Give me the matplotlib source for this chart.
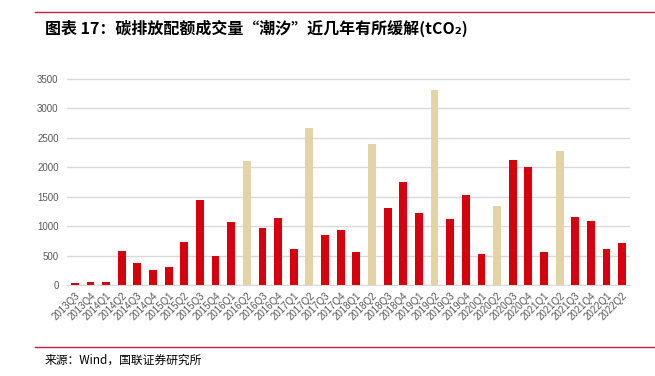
#!/usr/bin/env python3

import numpy as np
from matplotlib import pyplot as plt

plt.rcParams['font.family'] = ['Liberation Sans', 'Noto Sans CJK SC', 'DejaVu Sans']

quarters = ['2013Q3', '2013Q4',
            '2014Q1', '2014Q2', '2014Q3', '2014Q4',
            '2015Q1', '2015Q2', '2015Q3', '2015Q4',
            '2016Q1', '2016Q2', '2016Q3', '2016Q4',
            '2017Q1', '2017Q2', '2017Q3', '2017Q4',
            '2018Q1', '2018Q2', '2018Q3', '2018Q4',
            '2019Q1', '2019Q2', '2019Q3', '2019Q4',
            '2020Q1', '2020Q2', '2020Q3', '2020Q4',
            '2021Q1', '2021Q2', '2021Q3', '2021Q4',
            '2022Q1', '2022Q2']
volume = [40, 50, 55, 580, 375, 260, 310, 730, 1440, 485,
          1065, 2100, 975, 1130, 615, 2670, 850, 935,
          555, 2395, 1310, 1750, 1230, 3320, 1120, 1525,
          525, 1335, 2130, 2005, 555, 2280, 1160, 1090,
          615, 715]
# quarters drawn in tan
highlight = ['2016Q2', '2017Q2', '2018Q2', '2019Q2', '2020Q2', '2021Q2']

red = '#D7000F'
tan = '#E5D3A8'


def main():
    fig = plt.figure(figsize=(6.55, 3.76), dpi=100)
    ax = fig.add_axes([67/655, 1 - 285/376, 563/655, 206/376 * 3700/3500])

    x = np.arange(len(quarters))
    colors = [tan if q in highlight else red for q in quarters]
    ax.bar(x, volume, width=0.5, color=colors, zorder=3)

    ax.set_xlim(-0.5, len(quarters) - 0.5)
    ax.set_ylim(0, 3700)
    ax.set_yticks(np.arange(0, 3501, 500))
    ax.set_xticks(x)
    ax.set_xticklabels(quarters, rotation=45, ha='right', rotation_mode='anchor')
    ax.tick_params(axis='both', length=0, labelsize=7, colors='#595959', pad=4)
    ax.tick_params(axis='y', pad=6)
    ax.grid(axis='y', color='#d9d9d9', linewidth=1, zorder=0)
    for s in ['top', 'right', 'left']:
        ax.spines[s].set_visible(False)
    ax.spines['bottom'].set_color('#d9d9d9')

    # title and source with red rules
    fig.add_artist(plt.Line2D([35/655, 1], [1 - 12/376] * 2, color='#C8203C', lw=1))
    fig.text(45/655, 1 - 28/376, '图表 17：碳排放配额成交量“潮汐”近几年有所缓解(tCO₂)',
             fontsize=11.5, fontweight='bold', va='center',
             family=['Noto Sans CJK SC', 'DejaVu Sans'])
    fig.add_artist(plt.Line2D([35/655, 1], [1 - 347/376] * 2, color='#C8203C', lw=1))
    fig.text(45/655, 1 - 360/376, '来源：Wind，国联证券研究所', fontsize=8.5, va='center',
             family=['Noto Sans CJK SC', 'DejaVu Sans'])

    plt.savefig('out.png', dpi=100)
    plt.clf()


if __name__ == '__main__':
    main()
